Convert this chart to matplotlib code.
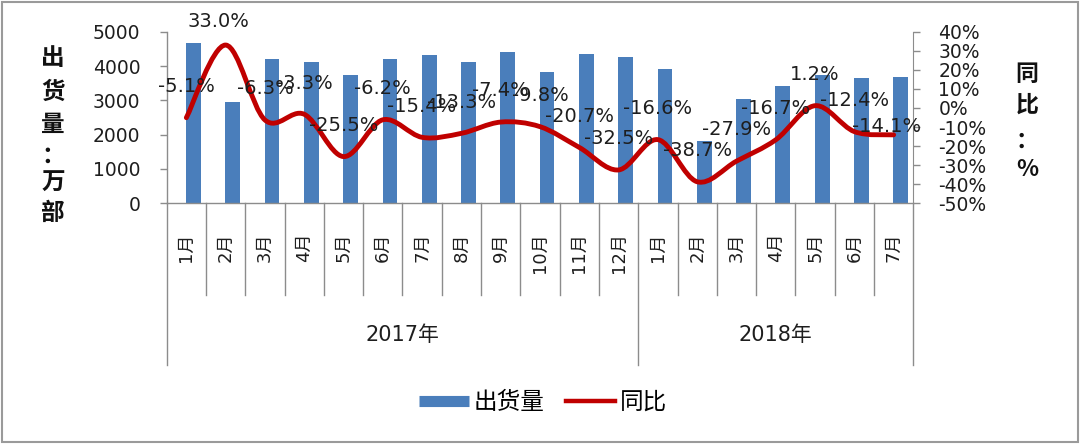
import matplotlib
matplotlib.use("Agg")
import matplotlib.pyplot as plt
from matplotlib.path import Path
from matplotlib.patches import PathPatch, Rectangle
from matplotlib.lines import Line2D
import matplotlib.transforms as mtransforms
import numpy as np

plt.rcParams['font.family'] = ['DejaVu Sans', 'Noto Sans CJK SC']

months = ["1月", "2月", "3月", "4月", "5月", "6月", "7月", "8月", "9月", "10月", "11月", "12月",
          "1月", "2月", "3月", "4月", "5月", "6月", "7月"]
years = ["2017年", "2018年"]
year_counts = [12, 7]
shipments = [4680, 2960, 4190, 4110, 3740, 4196, 4321, 4126, 4417, 3817, 4341, 4272,
             3904, 1810, 3030, 3427, 3740, 3660, 3690]
yoy = [-5.1, 33.0, -6.3, -3.3, -25.5, -6.2, -15.4, -13.3, -7.4, -9.8, -20.7, -32.5,
       -16.6, -38.7, -27.9, -16.7, 1.2, -12.4, -14.1]
left_ticks = [0, 1000, 2000, 3000, 4000, 5000]
right_ticks = [-50, -40, -30, -20, -10, 0, 10, 20, 30, 40]

BLUE = '#4a7ebb'
RED = '#c00000'
GRAY = '#8c8c8c'
TXT = '#1e1e1e'

W, H = 1080, 444
fig = plt.figure(figsize=(W / 100, H / 100), dpi=100)
fig.patch.set_facecolor('white')
ax = fig.add_axes([166.7 / W, 1 - 203.3 / H, (913.3 - 166.7) / W, 171.6 / H])

n = len(months)
x = np.arange(n)
ax.bar(x + 0.18, shipments, width=0.375, color=BLUE, zorder=2)
ax.set_xlim(-0.5, n - 0.5)
ax.set_ylim(0, 5000)
ax.set_yticks(left_ticks)
ax.set_yticklabels([str(t) for t in left_ticks], fontsize=13.5, color=TXT)
ax.tick_params(axis='y', direction='out', length=5, width=1, color=GRAY, pad=14)
ax.set_xticks(x)
ax.set_xticklabels(months, rotation=90, fontsize=13, color=TXT, va='top')
ax.tick_params(axis='x', length=0, pad=21)
for s in ['top', 'right']:
    ax.spines[s].set_visible(False)
for s in ['left', 'bottom']:
    ax.spines[s].set_color(GRAY)
    ax.spines[s].set_linewidth(1)

# category separators
trans = mtransforms.blended_transform_factory(ax.transData, ax.transAxes)
bounds = np.cumsum([0] + year_counts) - 0.5
for b in np.arange(n + 1) - 0.5:
    bottom = -0.942 if np.any(np.isclose(b, bounds)) else -0.534
    ax.plot([b, b], [0, bottom], transform=trans, color=GRAY, lw=1, clip_on=False)

# year labels
start = 0
for yl, c in zip(years, year_counts):
    cx = start + (c - 1) / 2
    ax.text(cx, -0.767, yl, transform=trans, ha='center', va='center', fontsize=15, color=TXT)
    start += c

# secondary axis with smoothed line
ax2 = ax.twinx()
ax2.set_ylim(-50, 40)
ax2.set_yticks(right_ticks)
ax2.set_yticklabels([f"{t}%" for t in right_ticks], fontsize=13.5, color=TXT)
ax2.tick_params(axis='y', direction='out', length=5, width=1, color=GRAY, pad=13)
for s in ['top', 'left', 'bottom']:
    ax2.spines[s].set_visible(False)
ax2.spines['right'].set_color(GRAY)

pts = np.column_stack([x, yoy]).astype(float)
verts = [pts[0]]
codes = [Path.MOVETO]
for i in range(n - 1):
    p0 = pts[i - 1] if i > 0 else pts[i]
    p1 = pts[i]
    p2 = pts[i + 1]
    p3 = pts[i + 2] if i + 2 < n else pts[i + 1]
    c1 = p1 + (p2 - p0) / 6.0
    c2 = p2 - (p3 - p1) / 6.0
    verts += [c1, c2, p2]
    codes += [Path.CURVE4] * 3
path = Path(verts, codes)
ax2.add_patch(PathPatch(path, fill=False, edgecolor=RED, lw=3.5, zorder=3,
                        capstyle='round', joinstyle='round'))

# data labels
offsets = {1: (-5.5, 17), n - 1: (-5, 6)}
for i, v in enumerate(yoy):
    dx, dy = offsets.get(i, (0, 22.5))
    ax2.annotate(f"{v:.1f}%", (i, v), xytext=(dx, dy), textcoords='offset points',
                 ha='center', va='center', fontsize=14, color=TXT, annotation_clip=False,
                 zorder=4)

# axis titles (vertical stacked characters)
left_chars = [("出", 58), ("货", 92), ("量", 125), ("：", 156), ("万", 183), ("部", 213)]
for ch, yy in left_chars:
    fig.text(53 / W, 1 - yy / H, ch, ha='center', va='center', fontsize=17,
             fontweight='bold', color='#111111', family=['Noto Sans CJK SC', 'DejaVu Sans'])
right_chars = [("同", 74), ("比", 105), ("：", 141), ("%", 169)]
for ch, yy in right_chars:
    fig.text(1027 / W, 1 - yy / H, ch, ha='center', va='center', fontsize=16.5,
             fontweight='bold', color='#111111', family=['Noto Sans CJK SC', 'DejaVu Sans'])

# legend
handles = [Line2D([], [], color=BLUE, lw=8, solid_capstyle='butt'),
           Line2D([], [], color=RED, lw=3.2)]
fig.legend(handles, ["出货量", "同比"], loc='center', bbox_to_anchor=(0.503, 0.094),
           ncol=2, frameon=False, handlelength=2.1, handletextpad=0.2, columnspacing=0.9,
           prop={'family': ['Noto Sans CJK SC'], 'size': 17})

# outer border
fig.patches.append(Rectangle((0.002, 0.004), 0.996, 0.992, transform=fig.transFigure,
                             fill=False, edgecolor='#9a9a9a', lw=1.5))

fig.savefig("out.png", dpi=100)
